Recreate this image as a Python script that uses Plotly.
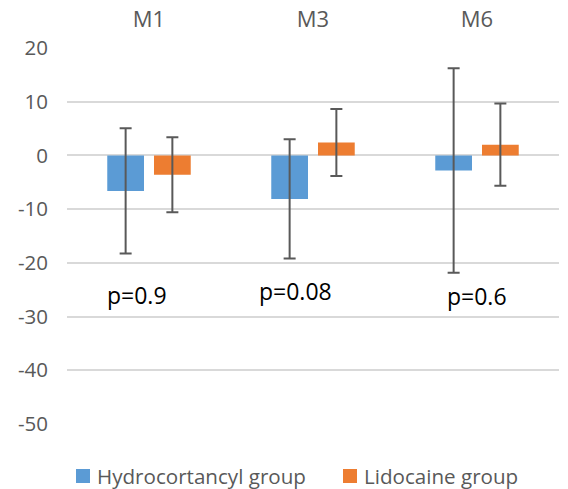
import plotly.graph_objects as go

categories = ["M1", "M3", "M6"]
hydro_mean = [-6.6, -8.1, -2.8]
hydro_sd = [11.65, 11.1, 19.05]
lido_mean = [-3.6, 2.4, 2.0]
lido_sd = [7.0, 6.25, 7.65]
series_names = ["Hydrocortancyl group", "Lidocaine group"]
series_colors = ["#5B9BD5", "#ED7D31"]
p_labels = ["p=0.9", "p=0.08", "p=0.6"]
p_y = [-25.9, -25.3, -26.2]
p_shift = [-12, -18, 0]
y_ticks = [20, 10, 0, -10, -20, -30, -40, -50]
y_ticktext = ["20", "10", "0", "-10", "-20", "-30", "-40", "-50"]

FONT = "Open Sans"
GRAY = "#595959"
W, H = 568, 489
ML, MR, MT, MB = 67, 9, 48, 65
PW, PH = W - ML - MR, H - MT - MB


def px_x(px):
    return (px - ML) / PW


def px_y(py):
    return (H - MB - py) / PH


fig = go.Figure()
fig.add_trace(go.Bar(
    x=categories, y=hydro_mean, name=series_names[0],
    marker=dict(color=series_colors[0], line=dict(width=0)),
    error_y=dict(type="data", array=hydro_sd, color=GRAY, thickness=2, width=6),
))
fig.add_trace(go.Bar(
    x=categories, y=lido_mean, name=series_names[1],
    marker=dict(color=series_colors[1], line=dict(width=0)),
    error_y=dict(type="data", array=lido_sd, color=GRAY, thickness=2, width=6),
))

for c, t, yv, xs in zip(categories, p_labels, p_y, p_shift):
    fig.add_annotation(x=c, y=yv, text=t, showarrow=False, xshift=xs,
                       font=dict(family=FONT, size=23, color="#000000"))

# legend drawn manually (swatch + label)
legend_left = [76, 343]
legend_cy = 476
for name, col, lx in zip(series_names, series_colors, legend_left):
    fig.add_shape(type="rect", xref="paper", yref="paper",
                  x0=px_x(lx), x1=px_x(lx + 14), y0=px_y(legend_cy + 7), y1=px_y(legend_cy - 7),
                  fillcolor=col, line=dict(width=0))
    fig.add_annotation(xref="paper", yref="paper", x=px_x(lx + 19), y=px_y(legend_cy),
                       xanchor="left", yanchor="middle", text=name, showarrow=False,
                       font=dict(family=FONT, size=20.6, color=GRAY))

fig.update_layout(
    width=W, height=H,
    margin=dict(l=ML, r=MR, t=MT, b=MB, autoexpand=False),
    paper_bgcolor="white", plot_bgcolor="white",
    barmode="group", bargap=0.43, bargroupgap=0.214,
    font=dict(family=FONT, size=22, color=GRAY),
    showlegend=False,
    xaxis=dict(side="top", showgrid=False, showline=False, ticks="", zeroline=False,
               automargin=False,
               tickfont=dict(family=FONT, size=22, color=GRAY), ticklabelstandoff=16),
    yaxis=dict(range=[-50, 20], tickvals=y_ticks, ticktext=y_ticktext, showgrid=True,
               gridcolor="#D9D9D9", gridwidth=1.5, zeroline=True, zerolinecolor="#D9D9D9",
               zerolinewidth=1.5, showline=False, ticks="", automargin=False,
               tickfont=dict(family=FONT, size=20.5, color=GRAY), ticklabelstandoff=18),
)

fig.write_html("out.html", config={"displayModeBar": False},
               post_script="document.body.style.margin='0';document.body.style.overflow='hidden';")
